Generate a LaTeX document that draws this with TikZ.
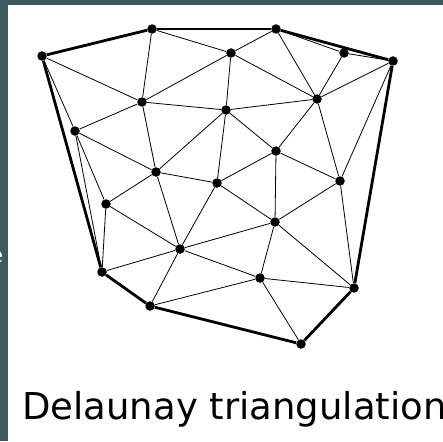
\documentclass[tikz,border=0pt]{standalone}
\usepackage{fontspec}
\setsansfont{DejaVu Sans}
\usetikzlibrary{positioning}
\definecolor{slideteal}{RGB}{61, 90, 94}

\begin{document}
\begin{tikzpicture}[x=1pt, y=-1pt,
  vtx/.style={circle, fill=black, inner sep=0pt, minimum size=9.5pt},
  hull/.style={line width=2.8pt, line join=round},
  edge/.style={line width=0.8pt}]

% Folienhintergrund
\fill[slideteal] (0,0) rectangle (443,441);
\fill[white] (8,5) rectangle (443,441);
\useasboundingbox (0,0) rectangle (443,441);
\node[white, font=\sffamily\fontsize{20}{24}\selectfont, anchor=base east, inner sep=0pt] (cut) at (3.5,262) {e};

% Punkte
\foreach \n/\x/\y in {A/42/56, B/152/29, C/276/29, D/231/53, E/344/53, F/393/61,
  G/142/102, H/226/110, I/317/99, J/75/131, K/156/172, L/217/183, M/276/151,
  N/340/181, O/106/204, P/275/222, Q/180/249, R/102/272, S/260/278, T/354/288,
  U/150/306, V/301/344}
  \node[vtx] (\n) at (\x,\y) {};

% konvexe Huelle
\foreach \u/\v in {A/B, B/C, C/F, F/T, T/V, V/U, U/R, R/A}
  \draw[hull] (\u) -- (\v);

% Kanten der Triangulierung
\foreach \u/\v in {A/G, A/J, A/R, B/G, B/D, C/D, C/I, C/E, D/G, D/H, D/I, E/I, E/F,
  F/I, F/N, G/H, G/J, G/K, H/I, H/K, H/L, H/M, I/M, I/N, J/K, J/O, J/R, K/L, K/O,
  K/Q, L/M, L/P, L/Q, M/N, M/P, N/P, N/T, O/Q, O/R, P/Q, P/S, P/T, Q/R, Q/S, Q/U,
  S/T, S/U, S/V}
  \draw[edge] (\u) -- (\v);

\node[font=\sffamily\fontsize{37}{44}\selectfont, anchor=base west, inner sep=0pt] (cap) at (22,419) {Delaunay triangulation};

\end{tikzpicture}
\end{document}
